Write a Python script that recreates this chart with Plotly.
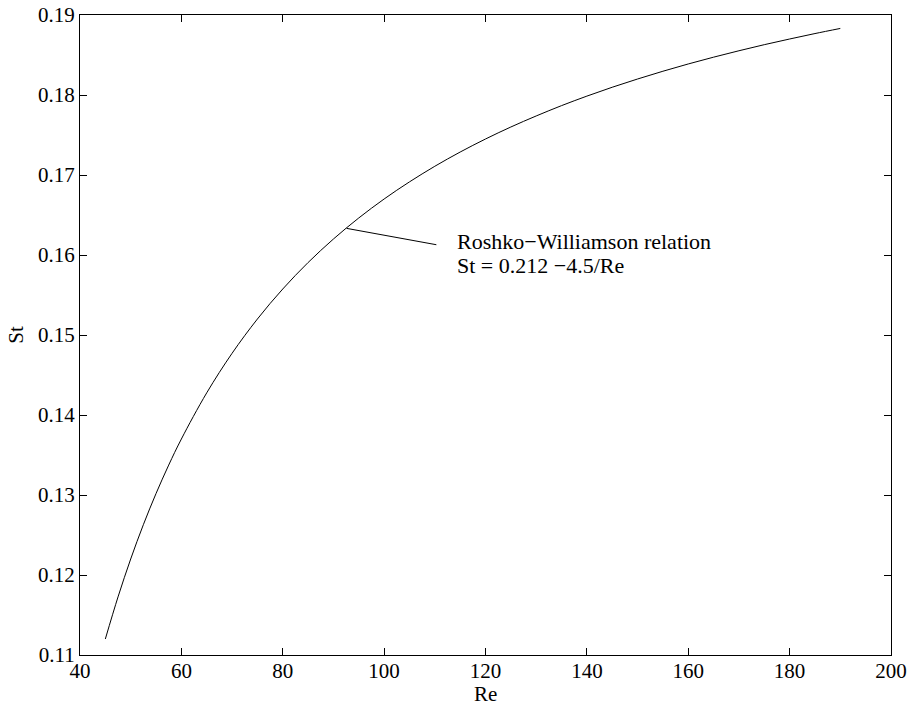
import plotly.graph_objects as go

# Reynolds numbers and Strouhal numbers along St = 0.212 - 4.5/Re
re_vals = [45, 47.5, 50, 52.5, 55, 57.5, 60, 65, 70, 75, 80, 85, 90, 95, 100,
           105, 110, 115, 120, 125, 130, 135, 140, 145, 150, 155, 160, 165,
           170, 175, 180, 185, 190]
st_vals = [0.1120, 0.11726, 0.1220, 0.12629, 0.13018, 0.13374, 0.1370,
           0.14277, 0.14771, 0.1520, 0.15575, 0.15906, 0.1620, 0.16463,
           0.1670, 0.16914, 0.17109, 0.17287, 0.1745, 0.1760, 0.17738,
           0.17867, 0.17986, 0.18097, 0.1820, 0.18297, 0.18388, 0.18473,
           0.18553, 0.18629, 0.1870, 0.18768, 0.18832]

x_ticks = [40, 60, 80, 100, 120, 140, 160, 180, 200]
y_ticks = [0.11, 0.12, 0.13, 0.14, 0.15, 0.16, 0.17, 0.18, 0.19]
y_tick_text = ["0.11", "0.12", "0.13", "0.14", "0.15", "0.16", "0.17", "0.18", "0.19"]

label_lines = ["Roshko\u2212Williamson relation", "St = 0.212 \u22124.5/Re"]
label_y = [0.16175, 0.15875]

font_family = "Liberation Serif, Times New Roman, serif"
tick_size = 21
label_size = 22

fig = go.Figure()
fig.add_trace(go.Scatter(
    x=re_vals, y=st_vals, mode="lines",
    line=dict(color="black", width=1, shape="spline"),
    showlegend=False, hoverinfo="skip",
))

axis_common = dict(
    showline=True, linecolor="black", linewidth=1, mirror="allticks",
    ticks="inside", ticklen=7, tickcolor="black", tickwidth=1,
    showgrid=False, zeroline=False, automargin=False,
    tickfont=dict(family=font_family, size=tick_size, color="black"),
)

fig.update_xaxes(range=[40, 200], tickvals=x_ticks, ticklabelstandoff=-3,
                 **axis_common)
fig.update_yaxes(range=[0.11, 0.19], tickvals=y_ticks, ticktext=y_tick_text,
                 **axis_common,
                 title=dict(text="St", standoff=8,
                            font=dict(family=font_family, size=tick_size, color="black")))

# x-axis label placed just below the tick labels
fig.add_annotation(
    x=0.5, y=0, xref="paper", yref="paper", xanchor="center", yanchor="top",
    yshift=-25, text="Re", showarrow=False,
    font=dict(family=font_family, size=tick_size, color="black"),
)

# leader line from the curve to the label
fig.add_annotation(
    x=92.6, y=0.16333, ax=110.6, ay=0.16125, axref="x", ayref="y",
    xref="x", yref="y", text="", showarrow=True, arrowhead=0,
    arrowwidth=1, arrowcolor="black", standoff=0, startstandoff=0,
)
for line, yv in zip(label_lines, label_y):
    fig.add_annotation(
        x=114.0, y=yv, xref="x", yref="y", xanchor="left", yanchor="middle",
        text=line, showarrow=False, align="left",
        font=dict(family=font_family, size=label_size, color="black"),
    )

fig.update_layout(
    width=909, height=706,
    margin=dict(l=80, r=18, t=15, b=51),
    paper_bgcolor="white", plot_bgcolor="white",
)

fig.write_html("out.html")
